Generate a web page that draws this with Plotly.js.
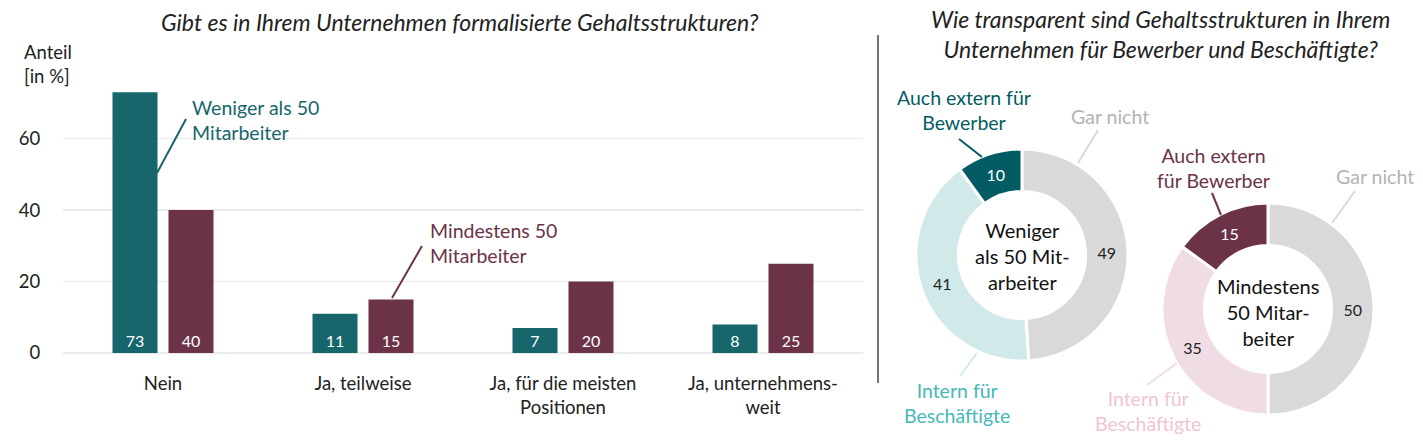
<!DOCTYPE html>
<html>
<head>
<meta charset="utf-8">
<script src="https://cdn.plot.ly/plotly-3.0.1.min.js"></script>
<style>
  html, body { margin:0; padding:0; background:#fff; }
  #chart { width:1423px; height:443px; }
</style>
</head>
<body>
<div id="chart"></div>
<script>
// bar chart data
const categories = ['Nein', 'Ja, teilweise', 'Ja, für die meisten<br>Positionen', 'Ja, unternehmens-<br>weit'];
const smallFirms = [73, 11, 7, 8];     // Weniger als 50 Mitarbeiter
const largeFirms = [40, 15, 20, 25];   // Mindestens 50 Mitarbeiter
const yTicks = [0, 20, 40, 60];

// donut data
const donutLabels = ['Gar nicht', 'Intern für Beschäftigte', 'Auch extern für Bewerber'];
const donutSmall = [49, 41, 10];
const donutLarge = [50, 35, 15];

const W = 1423, H = 443;
const FONT = 'Lato, "Open Sans", sans-serif';
const TEAL = '#16666b', MAROON = '#6b3248';
const px = x => x / W;
const py = y => 1 - y / H;

const barTraces = [
  { type:'bar', name:'Weniger als 50 Mitarbeiter', x: categories, y: smallFirms, marker:{ color: TEAL },
    text: smallFirms.map(String), textposition:'inside', insidetextanchor:'start',
    textfont:{ color:'#fff', size:16, family: FONT }, hoverinfo:'skip' },
  { type:'bar', name:'Mindestens 50 Mitarbeiter', x: categories, y: largeFirms, marker:{ color: MAROON },
    text: largeFirms.map(String), textposition:'inside', insidetextanchor:'start',
    textfont:{ color:'#fff', size:16, family: FONT }, hoverinfo:'skip' }
];

function donut(values, colors, textColors, dom){
  return { type:'pie', labels: donutLabels, values: values, sort:false, direction:'clockwise', rotation:0,
    hole:0.6, textinfo:'value', textposition:'inside', insidetextorientation:'horizontal',
    textfont:{ color: textColors, size:16, family: FONT },
    marker:{ colors: colors, line:{ color:'#fff', width:3 } },
    domain:{ x:[px(dom[0]), px(dom[1])], y:[py(dom[3]), py(dom[2])] }, hoverinfo:'skip', showlegend:false };
}

const traces = barTraces.concat([
  donut(donutSmall, ['#d9d9d9', '#d2e9e9', '#035c63'], ['#222', '#222', '#fff'], [916, 1128, 149, 361]),
  donut(donutLarge, ['#d9d9d9', '#f0dce4', MAROON], ['#222', '#222', '#fff'], [1162, 1374, 203, 415])
]);

function note(x, y, text, color, size, anchor){
  return { xref:'paper', yref:'paper', x: px(x), y: py(y), text: text, showarrow:false,
    xanchor: anchor || 'center', yanchor:'middle', align: anchor === 'left' ? 'left' : 'center',
    font:{ family: FONT, size: size || 19, color: color } };
}
function lead(x0, y0, x1, y1, color){
  return { type:'line', xref:'paper', yref:'paper', x0: px(x0), y0: py(y0), x1: px(x1), y1: py(y1),
    line:{ color: color, width:2 } };
}

const annotations = [
  note(460, 22, '<i>Gibt es in Ihrem Unternehmen formalisierte Gehaltsstrukturen?</i>', '#222', 23),
  note(1160, 34, '<i>Wie transparent sind Gehaltsstrukturen in Ihrem<br>Unternehmen für Bewerber und Beschäftigte?</i>', '#222', 23),
  note(22, 64, 'Anteil<br>[in %]', '#222', 18.5, 'left'),
  note(190, 120, 'Weniger als 50<br>Mitarbeiter', TEAL, 19.5, 'left'),
  note(428, 243, 'Mindestens 50<br>Mitarbeiter', MAROON, 19.5, 'left'),
  note(964, 110, 'Auch extern für<br>Bewerber', '#035c63', 19.5),
  note(1110, 116, 'Gar nicht', '#b3b3b3', 19.5),
  note(957, 403, 'Intern für<br>Beschäftigte', '#46b8b8', 19.5),
  note(1022, 256, 'Weniger<br>als 50 Mit-<br>arbeiter', '#111', 20),
  note(1213, 168, 'Auch extern<br>für Bewerber', MAROON, 19.5),
  note(1375, 176, 'Gar nicht', '#b3b3b3', 19.5),
  note(1148, 411, 'Intern für<br>Beschäftigte', '#f0c4d6', 19.5),
  note(1268, 312, 'Mindestens<br>50 Mitar-<br>beiter', '#111', 20)
];

const shapes = [
  { type:'line', xref:'paper', yref:'paper', x0: px(878), x1: px(878), y0: py(35), y1: py(383), line:{ color:'#444', width:1.5 } },
  lead(157, 173, 186, 119, TEAL),
  lead(392, 298, 422, 246, MAROON),
  lead(959, 139, 982, 157, '#035c63'),
  lead(1098, 130, 1078, 163, '#d9d9d9'),
  lead(977, 353, 960, 376, '#d2e9e9'),
  lead(1212, 193, 1221, 215, MAROON),
  lead(1355, 191, 1332, 223, '#d9d9d9'),
  lead(1177, 363, 1147, 385, '#f0dce4')
];

const layout = {
  width: W, height: H, margin:{ l:0, r:0, t:0, b:0 },
  paper_bgcolor:'#fff', plot_bgcolor:'#fff',
  font:{ family: FONT, size:18, color:'#222' },
  showlegend:false, barmode:'group', bargap:0.44, bargroupgap:0.196,
  xaxis:{ domain:[px(63), px(863)], type:'category', showgrid:false, zeroline:false, showline:false,
    ticks:'outside', ticklen:14, tickcolor:'rgba(0,0,0,0)', tickfont:{ size:18.5, color:'#222' }, fixedrange:true },
  yaxis:{ domain:[py(353), py(85)], range:[0, 75], tickvals: yTicks, ticktext: yTicks.map(String),
    showgrid:true, gridcolor:'#ebebeb', gridwidth:1.5, zeroline:true, zerolinecolor:'#ebebeb', zerolinewidth:1.5,
    ticks:'outside', ticklen:18, tickcolor:'rgba(0,0,0,0)', tickfont:{ size:18.5, color:'#222' }, fixedrange:true },
  annotations: annotations,
  shapes: shapes
};

Plotly.newPlot('chart', traces, layout, { displayModeBar:false, staticPlot:true });
</script>
</body>
</html>
